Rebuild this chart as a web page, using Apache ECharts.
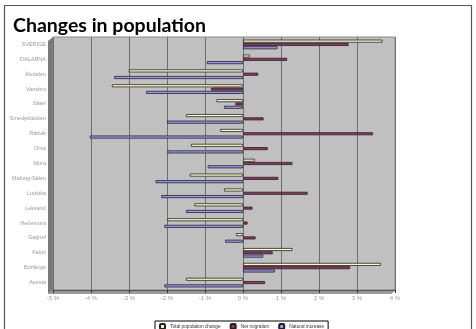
<!DOCTYPE html>
<html>
<head>
<meta charset="utf-8">
<script src="https://cdn.jsdelivr.net/npm/echarts@6/dist/echarts.min.js"></script>
<style>
  html, body { margin: 0; padding: 0; background: #fff; }
  #chart { width: 476px; height: 329px; }
</style>
</head>
<body>
<div id="chart"></div>
<script>
// Municipalities of Dalarna plus county and national totals (bottom to top)
const categories = ['Avesta', 'Borlänge', 'Falun', 'Gagnef', 'Hedemora', 'Leksand', 'Ludvika',
  'Malung-Sälen', 'Mora', 'Orsa', 'Rättvik', 'Smedjebacken', 'Säter', 'Vansbro', 'Älvdalen',
  'DALARNA', 'SVERIGE'];

// Percent change per area
const totalChange     = [-1.50, 3.63, 1.30, -0.18, -1.99, -1.28, -0.50, -1.40, 0.31, -1.37, -0.60, -1.50, -0.70, -3.45, -3.01, 0.18, 3.67];
const netMigration    = [0.58, 2.82, 0.78, 0.33, 0.12, 0.25, 1.70, 0.93, 1.30, 0.65, 3.42, 0.54, -0.20, -0.84, 0.40, 1.16, 2.78];
const naturalIncrease = [-2.07, 0.84, 0.53, -0.47, -2.07, -1.50, -2.15, -2.30, -0.93, -1.99, -4.03, -2.00, -0.50, -2.55, -3.39, -0.95, 0.91];

const seriesNames = ['Total population change', 'Net migration', 'Natural increase'];
const xTicks = { min: -5, max: 4, step: 1 };

const chart = echarts.init(document.getElementById('chart'), null, { renderer: 'canvas' });

const barStyle = (color) => ({ color: color, borderColor: '#222', borderWidth: 0.8 });

chart.setOption({
  animation: false,
  backgroundColor: '#fff',
  title: {
    text: 'Changes in population',
    left: 8, top: 11,
    textStyle: { fontFamily: 'Lato', fontWeight: 'bold', fontSize: 19.5, color: '#000' }
  },
  graphic: [
    // outer frame
    { type: 'rect', shape: { x: 4.5, y: 5.5, width: 467, height: 330 }, style: { fill: 'none', stroke: '#555', lineWidth: 1.2 }, silent: true },
    // side wall
    { type: 'polygon', shape: { points: [[48, 41], [53, 37], [53, 290], [48, 294]] }, style: { fill: '#7a7a7a' }, silent: true, z: -1 },
    // floor
    { type: 'polygon', shape: { points: [[48, 294], [53, 290], [396, 290], [391, 294]] }, style: { fill: '#9a9a9a' }, silent: true, z: -1 }
  ],
  legend: {
    data: seriesNames,
    left: 155, top: 321,
    itemWidth: 5, itemHeight: 5, itemGap: 9,
    padding: [2, 4, 2, 4],
    borderColor: '#000', borderWidth: 1,
    textStyle: { fontSize: 4.8, color: '#333', fontFamily: 'Liberation Sans' }
  },
  grid: {
    left: 53, top: 37, width: 342, bottom: 39,
    show: true, backgroundColor: '#c0c0c0', borderColor: '#8a8a8a', borderWidth: 1
  },
  xAxis: {
    type: 'value',
    min: xTicks.min, max: xTicks.max, interval: xTicks.step,
    axisLine: { show: true, lineStyle: { color: '#555', width: 1 } },
    axisTick: { show: true, length: 3, lineStyle: { color: '#333' } },
    axisLabel: {
      formatter: (v) => v + ' %', fontSize: 6, color: '#999', margin: 5,
      fontFamily: 'Liberation Sans'
    },
    splitLine: { show: true, lineStyle: { color: '#6e6e6e', width: 1 } }
  },
  yAxis: {
    type: 'category',
    data: categories,
    axisLine: { show: false },
    axisTick: { show: false },
    axisLabel: { fontSize: 5.5, color: '#999', margin: 7, fontFamily: 'Liberation Sans' }
  },
  series: [
    { name: seriesNames[0], type: 'bar', data: totalChange, barWidth: 3, barGap: '10%', itemStyle: barStyle('#ffffcc') },
    { name: seriesNames[1], type: 'bar', data: netMigration, barWidth: 3, barGap: '10%', itemStyle: barStyle('#993366') },
    { name: seriesNames[2], type: 'bar', data: naturalIncrease, barWidth: 3, barGap: '10%', itemStyle: barStyle('#9999ff') }
  ]
});
</script>
</body>
</html>
